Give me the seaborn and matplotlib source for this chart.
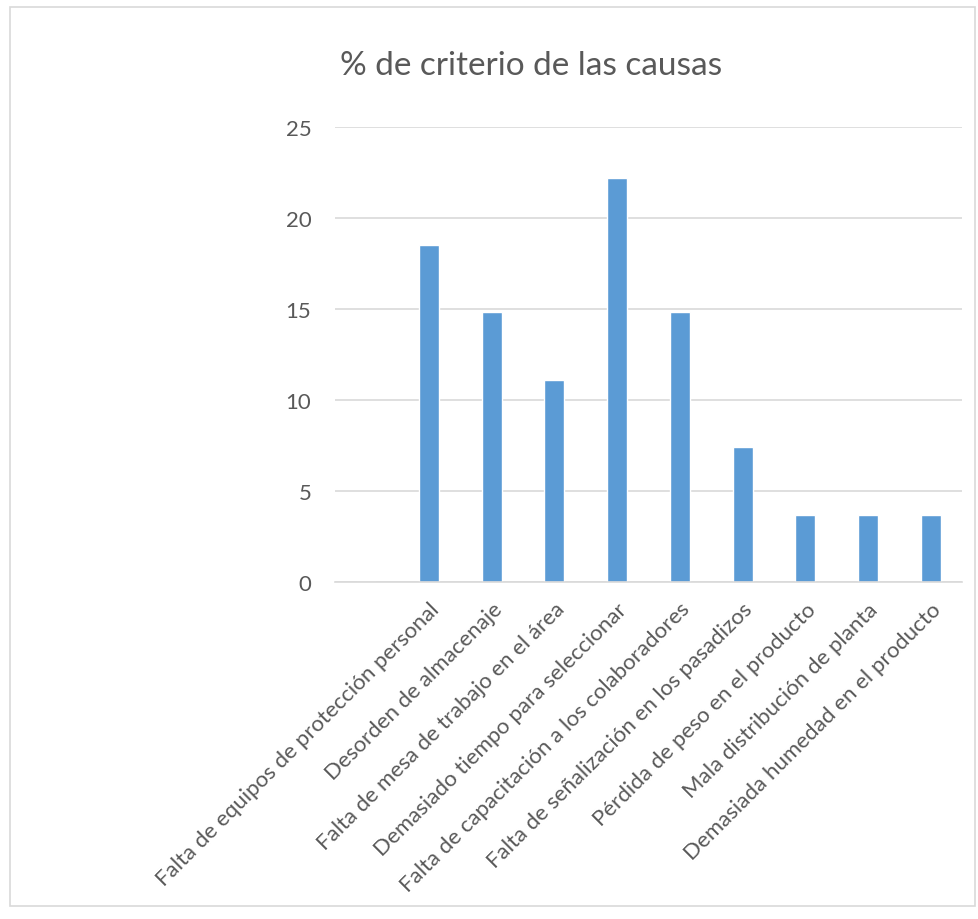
import matplotlib
matplotlib.use("Agg")
import matplotlib.pyplot as plt
import seaborn as sns
import pandas as pd
from matplotlib.patches import Rectangle

categories = ["",
              "Falta de equipos de protección personal",
              "Desorden de almacenaje",
              "Falta de mesa de trabajo en el área",
              "Demasiado tiempo para seleccionar",
              "Falta de capacitación a los colaboradores",
              "Falta de señalización en los pasadizos",
              "Pérdida de peso en el producto",
              "Mala distribución de planta",
              "Demasiada humedad en el producto"]
values = [0, 18.52, 14.81, 11.11, 22.22, 14.81, 7.41, 3.70, 3.70, 3.70]
yticks = [0, 5, 10, 15, 20, 25]
title = "% de criterio de las causas"

sns.set_theme(style="white")
plt.rcParams['font.family'] = ['Lato', 'DejaVu Sans']

df = pd.DataFrame({"causa": categories, "pct": values})

fig = plt.figure(figsize=(9.79, 9.2), dpi=100)
ax = fig.add_axes([335/979, 1-583/920, (962-335)/979, (583-128)/920])
sns.barplot(data=df, x="causa", y="pct", order=categories, color="#5B9BD5",
            width=0.32, saturation=1, ax=ax)
ax.set_ylim(0, 25)
ax.set_xlim(-0.5, len(categories)-0.5)
ax.set_yticks(yticks)
ax.set_yticklabels([str(t) for t in yticks], color="#595959", fontsize=16)
ax.yaxis.grid(True, color="#D9D9D9", linewidth=1.2)
ax.set_axisbelow(True)
for s in ["top", "right", "left"]:
    ax.spines[s].set_visible(False)
ax.spines["bottom"].set_color("#D9D9D9")
ax.spines["bottom"].set_linewidth(1.2)
ax.tick_params(axis="y", length=0, pad=17)
ax.set_xticks(range(len(categories)))
ax.set_xticklabels(categories, rotation=45, ha="right", rotation_mode="anchor",
                   color="#595959", fontsize=16)
ax.tick_params(axis="x", length=0, pad=12)
ax.set_xlabel("")
ax.set_ylabel("")
fig.text(531/979, 1-66/920, title, ha="center", va="center", fontsize=24,
         color="#595959")
fig.patches.append(Rectangle((10/979, 1-907/920), (975-10)/979, (907-8)/920,
                             transform=fig.transFigure, fill=False,
                             edgecolor="#D9D9D9", linewidth=1.2))
fig.savefig("out.png", dpi=100, facecolor="white")
